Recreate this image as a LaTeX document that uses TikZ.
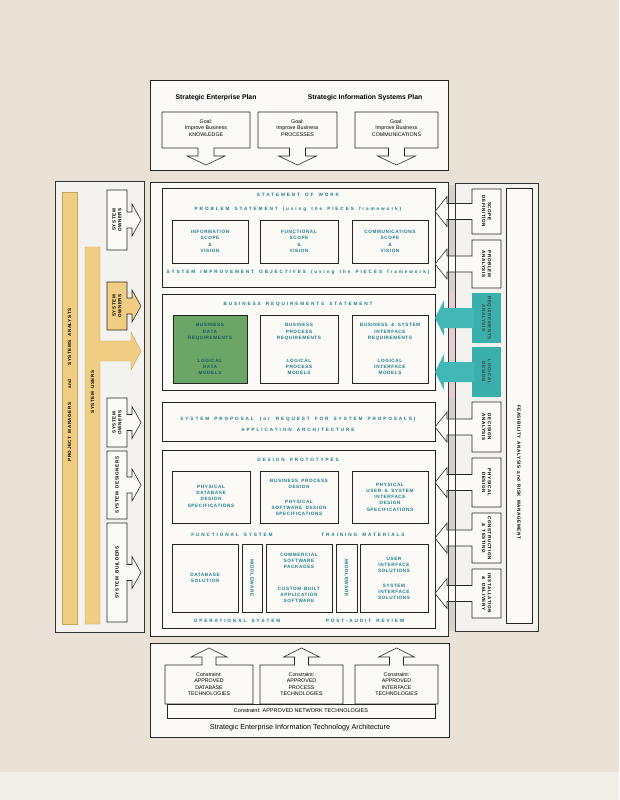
\documentclass[tikz,border=0pt]{standalone}
\usepackage{fontspec}
\setmainfont{Liberation Sans}
\newfontfamily\wide{Liberation Sans}[LetterSpace=40,WordSpace=1.6]
\newfontfamily\boxf{Liberation Sans}[LetterSpace=12,WordSpace=1.8]
\definecolor{bg}{HTML}{E9E1D5}
\definecolor{bglight}{HTML}{F2EEE8}
\definecolor{paper}{HTML}{FBFAF7}
\definecolor{panel}{HTML}{F4F2EE}
\definecolor{ink}{HTML}{1E7D8A}
\definecolor{yel}{HTML}{EFCE84}
\definecolor{yeledge}{HTML}{C9A55A}
\definecolor{tealc}{HTML}{41B8B5}
\definecolor{tealbox}{HTML}{3BAFAB}
\definecolor{grn}{HTML}{6CA667}
\definecolor{strip}{HTML}{D5D2CC}
\definecolor{pinks}{HTML}{E6CCD3}
\tikzset{
  frame/.style={draw=black!85, line width=0.55pt, fill=paper},
  hd/.style={font=\wide\bfseries\fontsize{4.7}{5.5}\selectfont, text=ink, inner sep=0pt},
  bt/.style={font=\boxf\bfseries\fontsize{4.7}{6.3}\selectfont, text=ink, align=center, inner sep=0pt},
  gt/.style={font=\fontsize{5.3}{6.3}\selectfont, align=center, inner sep=0pt},
  st/.style={font=\boxf\bfseries\fontsize{4.6}{5.8}\selectfont, align=center, inner sep=0pt},
  tt/.style={font=\bfseries\fontsize{6.8}{7.5}\selectfont, inner sep=0pt},
}
\begin{document}
\begin{tikzpicture}[x=1pt,y=-1pt]
\fill[bg] (0,0) rectangle (619,800);
\fill[bglight] (0,772) rectangle (619,800);
\useasboundingbox (0,0) rectangle (619,800);

% ---------- top box ----------
\draw[frame] (150,80) rectangle (448,170);
\node[tt] (sep) at (216,98) {Strategic Enterprise Plan};
\node[tt] (sisp) at (365,98) {Strategic Information Systems Plan};
\foreach \a/\b/\n/\t in {162/250/gk/KNOWLEDGE, 258/337/gp/PROCESSES, 355/438/gc/COMMUNICATIONS}{
  \pgfmathsetmacro\c{(\a+\b)/2}
  \draw[frame] (\a,112) -- (\b,112) -- (\b,148) -- (\c+8,148) -- (\c+8,156) -- (\c+19,156) -- (\c,165)
     -- (\c-19,156) -- (\c-8,156) -- (\c-8,148) -- (\a,148) -- cycle;
  \node[gt] (\n) at (\c,128) {Goal:\\Improve Business\\\t};
}

% ---------- left panel ----------
\draw[draw=black!80, line width=0.5pt, fill=panel] (55,181) rectangle (144,632);
\draw[fill=yel, draw=yeledge, line width=0.4pt] (62,192) rectangle (77,624);
\draw[fill=yel, draw=yeledge, line width=0.4pt] (85,247) -- (100,247) -- (100,341) -- (131,341) -- (131,332)
   -- (141,351) -- (131,370) -- (131,361) -- (100,361) -- (100,624) -- (85,624) -- cycle;
\node[st, rotate=90] (pmsa) at (69.5,385) {PROJECT MANAGERS\hspace{14pt}and\hspace{14pt}SYSTEMS ANALYSTS};
\node[st, rotate=90] (su) at (92.5,392) {SYSTEM USERS};
\foreach \ya/\yb/\n/\t/\f in {190/250/so1/SYSTEM\\OWNERS/paper, 282/330/so2/SYSTEM\\OWNERS/yel,
   398/447/so3/SYSTEM\\OWNERS/paper, 451/519/sdes/SYSTEM DESIGNERS/paper, 523/622/sbld/SYSTEM BUILDERS/paper}{
  \pgfmathsetmacro\c{(\ya+\yb)/2}
  \draw[frame, fill=\f] (107,\ya) -- (127,\ya) -- (127,\c-8) -- (132,\c-8) -- (132,\c-16) -- (141,\c)
     -- (132,\c+16) -- (132,\c+8) -- (127,\c+8) -- (127,\yb) -- (107,\yb) -- cycle;
  \node[st, rotate=90] (\n) at (117,\c) {\t};
}

% ---------- right panel ----------
\draw[draw=black!80, line width=0.5pt, fill=panel] (455,183) rectangle (538,631);
\draw[frame] (506,188) rectangle (532,623);
\node[st, rotate=-90] (fra) at (519,472) {FEASIBILITY ANALYSIS and RISK MANAGEMENT};
\fill[strip] (448,185) rectangle (455,631);
\fill[pinks] (448,292) rectangle (455,398);

% ---------- main column ----------
\draw[frame] (150,182) rectangle (448,636);

% statement of work
\draw[frame] (162,188) rectangle (435,287);
\node[hd] (sow) at (298,195) {STATEMENT OF WORK};
\node[hd] (ps) at (298,209) {PROBLEM STATEMENT (using the PIECES framework)};
\draw[frame] (172,220) rectangle (248,263);
\draw[frame] (260,220) rectangle (338,263);
\draw[frame] (352,220) rectangle (428,263);
\node[bt] (isv) at (210,241.5) {INFORMATION\\SCOPE\\\&\\VISION};
\node[bt] (fsv) at (299,241.5) {FUNCTIONAL\\SCOPE\\\&\\VISION};
\node[bt] (csv) at (390,241.5) {COMMUNICATIONS\\SCOPE\\\&\\VISION};
\node[hd] (sio) at (298,272) {SYSTEM IMPROVEMENT OBJECTIVES (using the PIECES framework)};

% business requirements
\draw[frame] (162,294) rectangle (435,390);
\node[hd] (brs) at (298,304) {BUSINESS REQUIREMENTS STATEMENT};
\draw[frame, fill=grn] (173,315) rectangle (247,383);
\draw[frame] (260,315) rectangle (338,383);
\draw[frame] (352,315) rectangle (428,383);
\node[bt, text=ink!70!black] (bdr) at (210,332) {BUSINESS\\DATA\\REQUIREMENTS};
\node[bt, text=ink!70!black] (ldm) at (210,367) {LOGICAL\\DATA\\MODELS};
\node[bt] (bpr) at (299,332) {BUSINESS\\PROCESS\\REQUIREMENTS};
\node[bt] (lpm) at (299,367) {LOGICAL\\PROCESS\\MODELS};
\node[bt] (bsir) at (390,332) {BUSINESS \& SYSTEM\\INTERFACE\\REQUIREMENTS};
\node[bt] (lim) at (390,367) {LOGICAL\\INTERFACE\\MODELS};

% system proposal
\draw[frame] (162,402) rectangle (435,441);
\node[hd] (sp) at (298,419) {SYSTEM PROPOSAL\hspace{6pt}(or\hspace{6pt}REQUEST FOR SYSTEM PROPOSALS)};
\node[hd] (aa) at (298,430) {APPLICATION ARCHITECTURE};

% design
\draw[frame] (162,450) rectangle (435,628);
\node[hd] (dp) at (298,460) {DESIGN PROTOTYPES};
\draw[frame] (172,471) rectangle (250,523);
\draw[frame] (260,471) rectangle (338,523);
\draw[frame] (352,471) rectangle (428,523);
\node[bt] (pdds) at (211,496) {PHYSICAL\\DATABASE\\DESIGN\\SPECIFICATIONS};
\node[bt] (bpd) at (299,484) {BUSINESS PROCESS\\DESIGN};
\node[bt] (psds) at (299,508) {PHYSICAL\\SOFTWARE DESIGN\\SPECIFICATIONS};
\node[bt] (pusi) at (390,497) {PHYSICAL\\USER \& SYSTEM\\INTERFACE\\DESIGN\\SPECIFICATIONS};
\node[hd] (fs) at (232,535) {FUNCTIONAL SYSTEM};
\node[hd] (tm) at (363,535) {TRAINING MATERIALS};
\draw[frame] (172,544) rectangle (238,612);
\draw[frame] (242,544) rectangle (262,612);
\draw[frame] (266,544) rectangle (332,612);
\draw[frame] (336,544) rectangle (357,612);
\draw[frame] (360,544) rectangle (428,612);
\node[bt] (dbs) at (205,578) {DATABASE\\SOLUTION};
\node[bt, rotate=-90] (mw1) at (252,578) {MIDDLEWARE};
\node[bt] (csp) at (299,561) {COMMERCIAL\\SOFTWARE\\PACKAGES};
\node[bt] (cbas) at (299,595) {CUSTOM-BUILT\\APPLICATION\\SOFTWARE};
\node[bt, rotate=-90] (mw2) at (346.5,578) {MIDDLEWARE};
\node[bt] (uis) at (394,565) {USER\\INTERFACE\\SOLUTIONS};
\node[bt] (sis) at (394,592) {SYSTEM\\INTERFACE\\SOLUTIONS};
\node[hd] (os) at (237,621) {OPERATIONAL SYSTEM};
\node[hd] (par) at (365,621) {POST-AUDIT REVIEW};

% ---------- right phase boxes with arrows ----------
\foreach \ya/\yb/\n/\t in {189/234/scd/SCOPE\\DEFINITION, 240/288/pra/PROBLEM\\ANALYSIS,
   402/452/dca/DECISION\\ANALYSIS, 458/507/phd/PHYSICAL\\DESIGN,
   513/563/cnt/CONSTRUCTION\\\& TESTING, 569/618/ind/INSTALLATION\\\& DELIVERY}{
  \pgfmathsetmacro\c{(\ya+\yb)/2}
  \draw[frame] (501,\ya) -- (472,\ya) -- (472,\c-8) -- (447,\c-8) -- (447,\c-15) -- (435,\c)
     -- (447,\c+15) -- (447,\c+8) -- (472,\c+8) -- (472,\yb) -- (501,\yb) -- cycle;
  \node[st, rotate=-90] (\n) at (486.5,\c) {\t};
}
\draw[black!80, line width=0.45pt] (448,182) -- (448,636);
\draw[black!80, line width=0.45pt] (455,183) -- (455,631);
\foreach \ya/\yb/\n/\t in {293/343/rqa/REQUIREMENTS\\ANALYSIS, 347/397/lgd/LOGICAL\\DESIGN}{
  \pgfmathsetmacro\c{(\ya+\yb)/2}
  \fill[tealbox] (472,\ya) rectangle (501,\yb);
  \fill[tealc] (474,\c-10) -- (444,\c-10) -- (444,\c-18) -- (435,\c) -- (444,\c+18) -- (444,\c+10) -- (474,\c+10) -- cycle;
  \node[st, rotate=-90, text=black!75] (\n) at (486.5,\c) {\t};
}

% ---------- bottom box ----------
\draw[frame] (150,643) rectangle (449,737);
\foreach \a/\b/\n/\t in {165/253/cdb/DATABASE, 260/343/cpr/PROCESS, 355/438/cif/INTERFACE}{
  \pgfmathsetmacro\c{(\a+\b)/2}
  \draw[frame] (\a,704) -- (\a,665) -- (\c-7,665) -- (\c-7,657) -- (\c-18,657) -- (\c,648)
     -- (\c+18,657) -- (\c+7,657) -- (\c+7,665) -- (\b,665) -- (\b,704) -- cycle;
  \node[gt] (\n) at (\c,684) {Constraint:\\APPROVED\\\t\\TECHNOLOGIES};
}
\draw[frame] (167,704) rectangle (435,718);
\node[gt, font=\fontsize{5.5}{6.3}\selectfont] (cnet) at (301,711) {Constraint: APPROVED NETWORK TECHNOLOGIES};
\node[font=\fontsize{7.2}{8}\selectfont, inner sep=0pt] (seita) at (300,728) {Strategic Enterprise Information Technology Architecture};
\end{tikzpicture}
\end{document}
